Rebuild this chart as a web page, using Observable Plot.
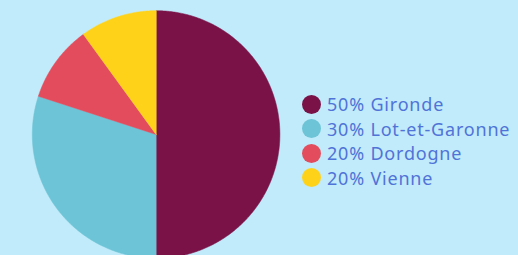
<!DOCTYPE html>
<html>
<head>
<meta charset="utf-8">
<script src="https://cdn.jsdelivr.net/npm/d3@7"></script>
<script src="https://cdn.jsdelivr.net/npm/@observablehq/plot@0.6"></script>
<style>
  html, body { margin: 0; padding: 0; background: #c1ebfa; overflow: hidden; }
  #wrap { position: relative; width: 518px; height: 255px; background: #c1ebfa; }
  #legend { position: absolute; left: 302px; top: 92px; font-family: "Noto Sans", sans-serif; font-size: 18px; letter-spacing: 0.8px; color: #5073d8; }
  .row { display: flex; align-items: center; height: 24.5px; white-space: nowrap; }
  .sw { width: 19px; height: 19px; border-radius: 50%; margin-right: 6px; flex: none; }
</style>
</head>
<body>
<div id="wrap"><div id="chart"></div><div id="legend"></div></div>
<script>
const departments = ["Gironde", "Lot-et-Garonne", "Dordogne", "Vienne"];
const shares = [50, 30, 10, 10];
const legendLabels = ["50% Gironde", "30% Lot-et-Garonne", "20% Dordogne", "20% Vienne"];
const colors = ["#7a1248", "#6cc4d6", "#e34c5c", "#ffd21a"];

const table = departments.map((d, i) => ({name: d, value: shares[i]}));
const arcs = d3.pie().sort(null).value(d => d.value)(table);
const pts = [];
for (const a of arcs) {
  pts.push({name: a.data.name, x: 0, y: 0});
  const n = Math.max(2, Math.ceil((a.endAngle - a.startAngle) / 0.01));
  for (let k = 0; k <= n; k++) {
    const t = a.startAngle + (a.endAngle - a.startAngle) * k / n;
    pts.push({name: a.data.name, x: Math.sin(t), y: Math.cos(t)});
  }
}

const chart = Plot.plot({
  width: 518,
  height: 255,
  margin: 0,
  style: {background: "transparent"},
  x: {domain: [-1, 1], range: [31.8, 279.4], axis: null},
  y: {domain: [-1, 1], range: [257.8, 10.2], axis: null},
  color: {domain: departments, range: colors},
  marks: [
    Plot.line(pts, {x: "x", y: "y", z: "name", fill: "name", stroke: "name", strokeWidth: 0.5, curve: "linear-closed"})
  ]
});
document.getElementById("chart").appendChild(chart);

const legend = document.getElementById("legend");
legendLabels.forEach((lab, i) => {
  const row = document.createElement("div");
  row.className = "row";
  const sw = document.createElement("span");
  sw.className = "sw";
  sw.style.background = colors[i];
  const tx = document.createElement("span");
  tx.textContent = lab;
  row.appendChild(sw);
  row.appendChild(tx);
  legend.appendChild(row);
});
</script>
</body>
</html>
